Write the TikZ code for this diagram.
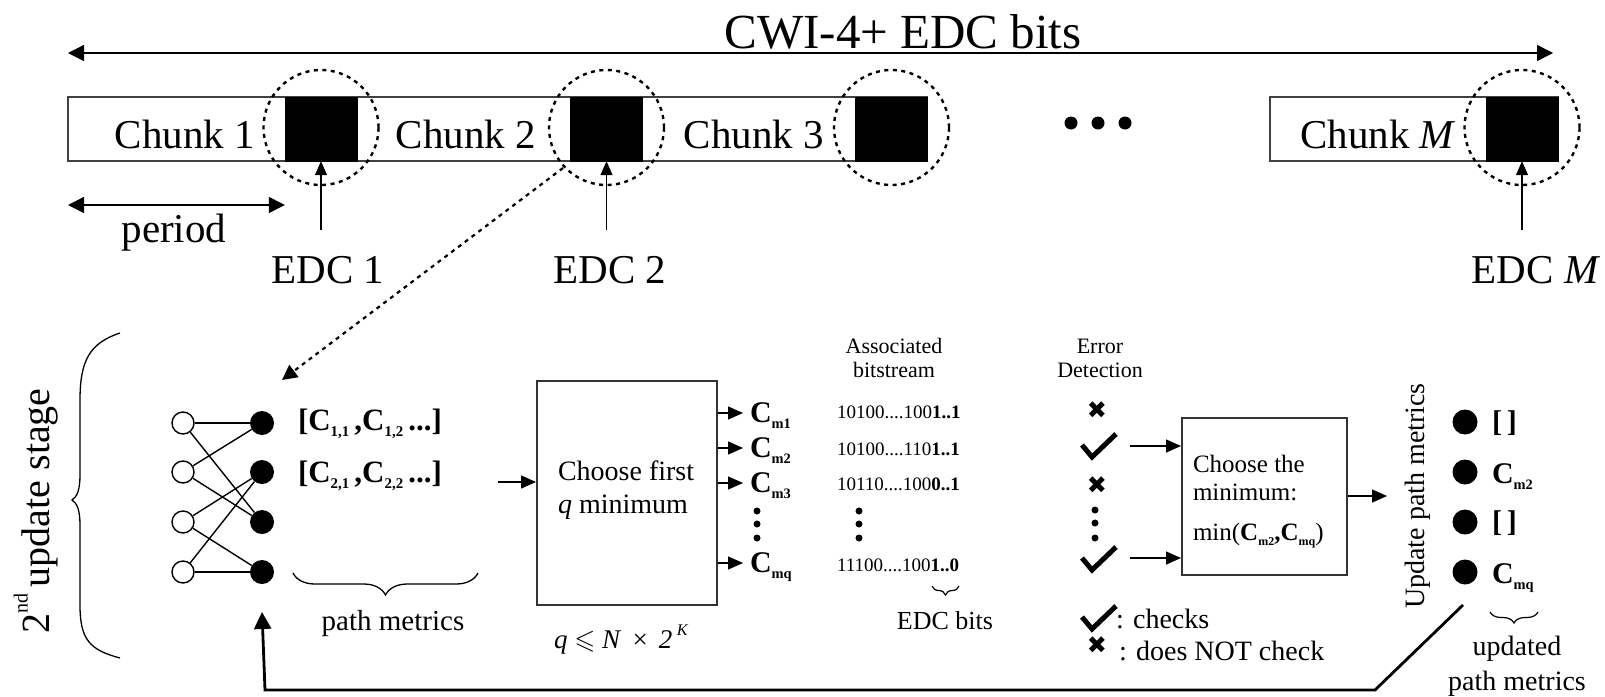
\documentclass[tikz,border=0pt]{standalone}
\usepackage{amssymb}
\usepackage{graphicx}
\usepackage{fontspec}
\setmainfont{Liberation Serif}
\newfontfamily\symfont{DejaVu Sans}
\usetikzlibrary{arrows.meta,decorations.pathreplacing}
\newcommand{\fsz}[1]{\fontsize{#1}{#1}\selectfont}
\newcommand{\Cb}[1]{\textbf{C}\raisebox{-0.22em}{\scalebox{0.48}{\textbf{#1}}}}
\begin{document}
\begin{tikzpicture}[x=1pt,y=1pt,
  txt/.style={inner sep=0pt,outer sep=0pt},
  arr/.style={line width=1.4pt,-{Triangle[length=15pt,width=13pt]}},
  darr/.style={line width=1.4pt,{Triangle[length=16pt,width=16pt]}-{Triangle[length=16pt,width=16pt]}},
  edcbox/.style={fill=black,draw=black,minimum width=72pt,minimum height=64pt,inner sep=0pt},
  ring/.style={circle,draw,dash pattern=on 4pt off 4.5pt,line width=2.4pt,minimum size=115pt,inner sep=0pt},
  bar/.style={draw=black!75,line width=1.8pt},
  blk/.style={draw=black!80,line width=2pt,inner sep=0pt},
  opennode/.style={circle,draw,line width=1.4pt,minimum size=22pt,inner sep=0pt,fill=white},
  fillnode/.style={circle,fill=black,minimum size=24pt,inner sep=0pt},
  dotnode/.style={circle,fill=black,minimum size=7pt,inner sep=0pt},
  edge/.style={line width=1.4pt},
  brc/.style={line width=1.3pt,decorate},
  chkpic/.pic={\draw[line width=5pt,line join=miter] (-16,2) -- (-6,-10) -- (18,13);}
]
\useasboundingbox (0,0) rectangle (1605,-696);

% ---------- top ----------
\node[txt,font=\fsz{49},anchor=base] (title) at (903,-48) {CWI-4+ EDC bits};
\coordinate (tl) at (68,-53);
\coordinate (tr) at (1553,-53);
\draw[darr] (tl) -- (tr);

\draw[bar] (68,-97) rectangle (927,-161);
\draw[bar] (1270,-97) rectangle (1558,-161);
\node[edcbox] (e1) at (321,-129) {};
\node[edcbox] (e2) at (606.5,-129) {};
\node[edcbox] (e3) at (891.5,-129) {};
\node[edcbox] (eM) at (1522,-129) {};
\node[ring] (c1) at (321,-127.5) {};
\node[ring] (c2) at (606.5,-127.5) {};
\node[ring] (c3) at (891.5,-127.5) {};
\node[ring] (cM) at (1522,-127.5) {};

\node[txt,font=\fsz{41},anchor=base east] (ch1) at (255,-148) {Chunk 1};
\node[txt,font=\fsz{41},anchor=base east] (ch2) at (536,-148) {Chunk 2};
\node[txt,font=\fsz{41},anchor=base east] (ch3) at (824,-148) {Chunk 3};
\node[txt,font=\fsz{41},anchor=base east] (chM) at (1456,-148) {Chunk \textit{M}};

\fill (1071,-123) circle (6.5);
\fill (1098,-123) circle (6.5);
\fill (1125,-123) circle (6.5);

\coordinate (p1) at (68,-205);
\draw[darr] (p1) -- (e1.west |- p1);
\node[txt,font=\fsz{41},anchor=base] (per) at (174,-242) {period};

\coordinate (a1) at (321,-230);
\coordinate (a2) at (606.5,-230);
\coordinate (aM) at (1522,-230);
\draw[line width=1.4pt,-{Triangle[length=14pt,width=12pt]}] (a1) -- (e1.south);
\draw[line width=1.4pt,-{Triangle[length=14pt,width=12pt]}] (a2) -- (e2.south);
\draw[line width=1.4pt,-{Triangle[length=14pt,width=12pt]}] (aM) -- (eM.south);
\node[txt,font=\fsz{41},anchor=base] (l1) at (328,-283) {EDC 1};
\node[txt,font=\fsz{41},anchor=base] (l2) at (610,-283) {EDC 2};
\node[txt,font=\fsz{41},anchor=base] (lM) at (1536,-283) {EDC \textit{M}};

% ---------- bottom left ----------
\draw[line width=1.3pt] (120,-333) .. controls (90,-343) and (80,-360) .. (80,-400)
  -- (80,-475) .. controls (80,-490) and (77,-497) .. (72,-500)
  .. controls (77,-503) and (80,-510) .. (80,-525)
  -- (80,-605) .. controls (80,-640) and (90,-650) .. (120,-658);
\node[rotate=90,txt,font=\fsz{40}] (stage) at (36,-511) {2\raisebox{0.55em}{\scalebox{0.5}{nd}}\,update stage};

\foreach \i/\y in {1/-423,2/-472,3/-522,4/-572}{
  \node[opennode] (o\i) at (183,\y) {};
  \node[fillnode] (f\i) at (262,\y) {};
}
\draw[edge] (o1) -- (f1); \draw[edge] (o1) -- (f3);
\draw[edge] (o2) -- (f1); \draw[edge] (o2) -- (f3);
\draw[edge] (o3) -- (f2); \draw[edge] (o3) -- (f4);
\draw[edge] (o4) -- (f2); \draw[edge] (o4) -- (f4);

\coordinate (dtip) at (282,-380);
\coordinate (dstart) at (563,-168);
\draw[line width=2.2pt,dash pattern=on 4pt off 4.5pt,-{Triangle[length=15pt,width=15pt]}] (dstart) -- (dtip);

\node[txt,font=\fsz{31},anchor=base west] (pm1) at (298,-430) {\textbf{[}\Cb{1,1}\,\textbf{,}\Cb{1,2}\,\textbf{...]}};
\node[txt,font=\fsz{31},anchor=base west] (pm2) at (298,-482) {\textbf{[}\Cb{2,1}\,\textbf{,}\Cb{2,2}\,\textbf{...]}};
\draw[brc,decoration={brace,amplitude=22pt}] (478,-573) -- (293,-573);
\node[txt,font=\fsz{29},anchor=base] (pmt) at (393,-630) {path metrics};

% ---------- choose first q ----------
\node[blk,minimum width=180pt,minimum height=224pt] (box1) at (627,-493) {};
\coordinate (inA) at (498,-482);
\draw[arr] (inA) -- (box1.west |- inA);
\node[txt,font=\fsz{28},anchor=base west] (b1t1) at (558,-480) {Choose first};
\node[txt,font=\fsz{28},anchor=base west] (b1t2) at (558,-513) {\textit{q} minimum};
\node[txt,font=\fsz{27},anchor=base west] (qle) at (554,-648) {\textit{q} $\leqslant$ \textit{N}\, × \,\textit{2}\,\raisebox{0.45em}{\scalebox{0.6}{\textit{K}}}};

\foreach \n/\y/\s in {1/-413/m1,2/-448/m2,3/-483/m3,4/-563/mq}{
  \coordinate (ct\n) at (743,\y);
  \draw[arr] (box1.east |- ct\n) -- (ct\n);
  \node[txt,font=\fsz{30},anchor=base west] (cm\n) at (750,\y-9) {\Cb{\s}};
}
\node[dotnode] at (757,-511) {};
\node[dotnode] at (757,-524) {};
\node[dotnode] at (757,-538) {};

% ---------- bitstreams ----------
\node[txt,font=\fsz{22},anchor=base] (as1) at (894,-353) {Associated};
\node[txt,font=\fsz{22},anchor=base] (as2) at (894,-377) {bitstream};
\node[txt,font=\fsz{19},anchor=base west] (bs1) at (837,-418) {10100....100\textbf{1..1}};
\node[txt,font=\fsz{19},anchor=base west] (bs2) at (837,-455) {10100....110\textbf{1..1}};
\node[txt,font=\fsz{19},anchor=base west] (bs3) at (837,-490) {10110....100\textbf{0..1}};
\node[txt,font=\fsz{19},anchor=base west] (bs4) at (837,-571) {11100....100\textbf{1..0}};
\node[dotnode] at (859,-511) {};
\node[dotnode] at (859,-524) {};
\node[dotnode] at (859,-538) {};
\draw[line width=1.2pt,decorate,decoration={brace,amplitude=9pt}] (959,-586) -- (932,-586);
\node[txt,font=\fsz{26},anchor=base] (edcb) at (945,-629) {EDC bits};

% ---------- error detection ----------
\node[txt,font=\fsz{22},anchor=base] (er1) at (1100,-353) {Error};
\node[txt,font=\fsz{22},anchor=base] (er2) at (1100,-377) {Detection};
\node[txt,font=\symfont\fsz{24}] (x1) at (1097,-410) {✖};
\pic at (1098,-447) {chkpic};
\node[txt,font=\symfont\fsz{24}] (x2) at (1097,-485) {✖};
\node[dotnode] at (1095,-510) {};
\node[dotnode] at (1095,-523) {};
\node[dotnode] at (1095,-538) {};
\pic at (1098,-560) {chkpic};

\node[blk,minimum width=165pt,minimum height=157pt] (box2) at (1264.5,-496.5) {};
\coordinate (ea1) at (1130,-446);
\coordinate (ea2) at (1130,-558);
\draw[arr] (ea1) -- (box2.west |- ea1);
\draw[arr] (ea2) -- (box2.west |- ea2);
\node[txt,font=\fsz{25},anchor=base west] (b2t1) at (1193,-472) {Choose the};
\node[txt,font=\fsz{25},anchor=base west] (b2t2) at (1193,-500) {minimum:};
\node[txt,font=\fsz{25},anchor=base west] (b2t3) at (1193,-540) {min(\Cb{m2}\textbf{,}\Cb{mq})};

\pic at (1098,-619) {chkpic};
\node[txt,font=\fsz{28},anchor=base west] (lg1) at (1116,-628) {: checks};
\node[txt,font=\symfont\fsz{24}] (x3) at (1097,-645) {✖};
\node[txt,font=\fsz{28},anchor=base west] (lg2) at (1119,-660) {: does NOT check};

% ---------- update ----------
\coordinate (uo) at (1387,-496);
\draw[arr] (box2.east |- uo) -- (uo);
\node[rotate=90,txt,font=\fsz{28}] (upd) at (1418,-496) {Update path metrics};
\foreach \i/\y in {1/-422,2/-472,3/-522,4/-572}{
  \node[fillnode,minimum size=25pt] (u\i) at (1465,\y) {};
}
\node[txt,font=\fsz{30},anchor=base west] (ul1) at (1492,-431) {\textbf{[\,]}};
\node[txt,font=\fsz{30},anchor=base west] (ul2) at (1492,-483) {\Cb{m2}};
\node[txt,font=\fsz{30},anchor=base west] (ul3) at (1492,-531) {\textbf{[\,]}};
\node[txt,font=\fsz{30},anchor=base west] (ul4) at (1492,-583) {\Cb{mq}};
\draw[line width=1.2pt,decorate,decoration={brace,amplitude=11pt}] (1538,-612) -- (1490,-612);
\node[txt,font=\fsz{28},anchor=base] (up1) at (1517,-655) {updated};
\node[txt,font=\fsz{28},anchor=base] (up2) at (1517,-690) {path metrics};

% ---------- feedback ----------
\coordinate (fb1) at (1463,-605);
\coordinate (fb2) at (1375,-690);
\coordinate (fb3) at (265,-690);
\draw[line width=2.8pt,-{Triangle[length=17pt,width=17pt]}] (fb1) -- (fb2) -- (fb3) -- (f4.south |- 0,-612);
\end{tikzpicture}
\end{document}
